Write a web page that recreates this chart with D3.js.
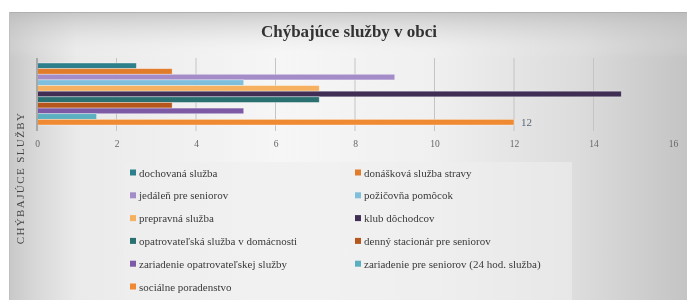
<!DOCTYPE html>
<html><head><meta charset="utf-8">
<script src="https://cdn.jsdelivr.net/npm/d3@7"></script>
<style>html,body{margin:0;padding:0;background:#fff;}svg{display:block;}</style>
</head><body>
<svg id="chart" width="687" height="300"></svg>
<script>
const title = "Chýbajúce služby v obci";
const axisTitle = "CHÝBAJÚCE SLUŽBY";
const services = [
  "dochovaná služba",
  "donášková služba stravy",
  "jedáleň pre seniorov",
  "požičovňa pomôcok",
  "prepravná služba",
  "klub dôchodcov",
  "opatrovateľská služba v domácnosti",
  "denný stacionár pre seniorov",
  "zariadenie opatrovateľskej služby",
  "zariadenie pre seniorov (24 hod. služba)",
  "sociálne poradenstvo"
];
const values = [2.5, 3.4, 9, 5.2, 7.1, 14.7, 7.1, 3.4, 5.2, 1.5, 12];
const labelled = ["sociálne poradenstvo"];
const colors = ["#2f7f8c","#e07b2a","#a48cc8","#7fbfdc","#f5b060","#3f2f55","#2a6f70","#b5571e","#7d5aa5","#5ab0c0","#f08a30"];
const xTicks = [0,2,4,6,8,10,12,14,16];

const SERIF = "'Liberation Serif','Times New Roman','DejaVu Serif',serif";
const svg = d3.select("#chart");
const defs = svg.append("defs");
const g1 = defs.append("linearGradient").attr("id","bgH").attr("x1","0").attr("x2","1").attr("y1","0").attr("y2","0");
[["0%","#c8c8c8"],["4%","#d8d8d8"],["10%","#eaeaea"],["40%","#f6f6f6"],["62%","#f0f0f0"],["84%","#dcdcdc"],["100%","#c4c4c4"]]
  .forEach(s=>g1.append("stop").attr("offset",s[0]).attr("stop-color",s[1]));
const g2 = defs.append("linearGradient").attr("id","bgV").attr("x1","0").attr("x2","0").attr("y1","0").attr("y2","1");
[["0%","#b8b8b8",0.7],["8%","#d0d0d0",0.3],["16%","#ffffff",0]]
  .forEach(s=>g2.append("stop").attr("offset",s[0]).attr("stop-color",s[1]).attr("stop-opacity",s[2]));
defs.append("filter").attr("id","soft").attr("x","-5%").attr("y","-5%").attr("width","110%").attr("height","110%")
  .append("feGaussianBlur").attr("stdDeviation",0.45);

const root = svg.append("g").attr("filter","url(#soft)");

// chart area
root.append("rect").attr("x",9).attr("y",12).attr("width",678).attr("height",288).attr("fill","url(#bgH)");
root.append("rect").attr("x",9).attr("y",12).attr("width",678).attr("height",288).attr("fill","url(#bgV)");
root.append("line").attr("x1",9).attr("x2",687).attr("y1",12.5).attr("y2",12.5).attr("stroke","#b0b0b0");
root.append("line").attr("x1",9.5).attr("x2",9.5).attr("y1",12).attr("y2",300).attr("stroke","#c0c0c0");

// title
root.append("text").attr("x",349).attr("y",37).attr("text-anchor","middle")
  .attr("font-family",SERIF).attr("font-weight","bold").attr("font-size",17)
  .attr("fill","#333").text(title);

// scales
const x = d3.scaleLinear().domain([0,16]).range([37,673]);
const y = d3.scaleBand().domain(services).range([63,125]).paddingInner(0);

// gridlines
root.append("g").selectAll("line").data(xTicks.filter(t=>t>0 && t<16)).join("line")
  .attr("x1",d=>x(d)).attr("x2",d=>x(d)).attr("y1",58).attr("y2",131)
  .attr("stroke","#c4c4c4").attr("stroke-width",1);

// bars
root.append("g").selectAll("rect").data(services).join("rect")
  .attr("x",x(0)).attr("y",d=>y(d))
  .attr("width",(d,i)=>x(values[i])-x(0)).attr("height",y.bandwidth())
  .attr("fill",(d,i)=>colors[i]).attr("stroke","rgba(255,255,255,0.45)").attr("stroke-width",0.8);

// axis line
root.append("line").attr("x1",x(0)).attr("x2",x(0)).attr("y1",58).attr("y2",131).attr("stroke","#a8a8a8").attr("stroke-width",2);

// data label
root.append("g").selectAll("text").data(services.filter(s=>labelled.includes(s))).join("text")
  .attr("x",d=>x(values[services.indexOf(d)])+7).attr("y",d=>y(d)+y.bandwidth()/2+4)
  .attr("font-family",SERIF).attr("font-size",11).attr("fill","#5a6878")
  .text(d=>d3.format("d")(values[services.indexOf(d)]));

// x axis
const ax = root.append("g").attr("transform","translate(0,146)")
  .call(d3.axisBottom(x).tickValues(xTicks).tickSize(0).tickPadding(0));
ax.select(".domain").remove();
ax.selectAll("text").attr("font-family",SERIF).attr("font-size",9.5).attr("fill","#666").attr("dy","0.1em");

// y axis title
root.append("text").attr("transform","translate(24,178) rotate(-90)").attr("text-anchor","middle")
  .attr("font-family",SERIF).attr("font-size",11).attr("letter-spacing",1.4)
  .attr("fill","#444").text(axisTitle);

// legend
root.append("rect").attr("x",124).attr("y",162).attr("width",448).attr("height",138).attr("fill","#efefef").attr("opacity",0.6);
const leg = root.append("g").selectAll("g").data(services).join("g")
  .attr("transform",(d,i)=>`translate(${i%2===0?130:355},${173+Math.floor(i/2)*22.8})`);
leg.append("rect").attr("x",0).attr("y",-3.5).attr("width",6).attr("height",6).attr("fill",(d,i)=>colors[i]);
leg.append("text").attr("x",9).attr("y",3.5).attr("font-family",SERIF).attr("font-size",11)
  .attr("fill","#3a3a3a").text(d=>d);
</script>
</body></html>
